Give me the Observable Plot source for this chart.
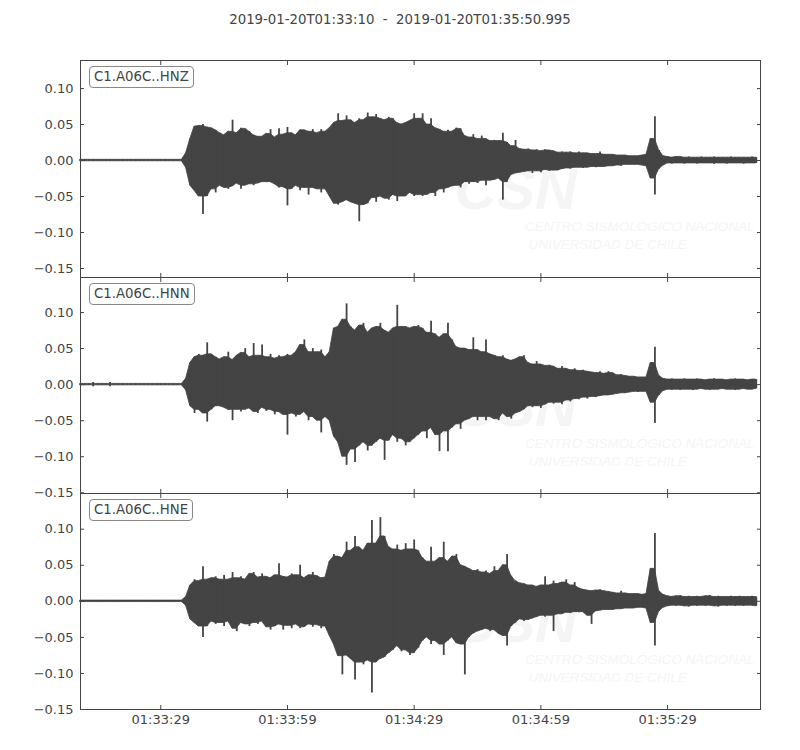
<!DOCTYPE html>
<html><head><meta charset="utf-8">
<script src="https://cdn.jsdelivr.net/npm/d3@7"></script>
<script src="https://cdn.jsdelivr.net/npm/@observablehq/plot@0.6"></script>
<style>
body{margin:0;background:#fff;font-family:"DejaVu Sans",sans-serif;}
#wrap{position:relative;width:800px;height:750px;overflow:hidden;}
#title{position:absolute;top:12px;left:0;width:800px;text-align:center;font-size:13.3px;line-height:16px;color:#444;white-space:pre;}
.panel{position:absolute;left:0;}
.lab{position:absolute;left:89px;padding:1px 4px;border:1px solid #888;border-radius:4px;background:#fff;font-size:13.3px;line-height:18px;color:#444;white-space:pre;}
</style></head><body><div id="wrap"><div id="title"></div></div>
<script>
// ---- data (amplitudes in units of 1e-3, one envelope value per second from the start time) ----
const startISO = "2019-01-20T01:33:10";
const endISO = "2019-01-20T01:35:50.995";
const channels = ["C1.A06C..HNZ", "C1.A06C..HNN", "C1.A06C..HNE"];
const xTickLabels = ["01:33:29", "01:33:59", "01:34:29", "01:34:59", "01:35:29"];
const yTickValues = [-0.15, -0.10, -0.05, 0.00, 0.05, 0.10];
const yLimits = [[-0.1625, 0.139], [-0.151, 0.1486], [-0.150, 0.1495]];
const watermarkLines = ["CSN", "CENTRO SISMOLÓGICO NACIONAL", "UNIVERSIDAD DE CHILE"];
const AMP_UNIT = 0.001;
const STEP_SECONDS = 1;

const hnzUpper = [1,1,1,1,1,1,1,1,1,1,1,1,1,1,1,1,1,1,1,1,1,1,1,1,1,
 10,30,47,48,50,46,45,42,38,35,40,56,38,45,44,40,35,33,33,37,43,32,44,36,46,38,35,42,42,40,43,38,43,40,45,52,65,55,62,56,52,58,56,66,60,64,58,56,60,58,52,50,52,55,65,58,
 65,50,58,45,43,40,42,40,45,44,34,32,36,30,34,30,27,28,27,38,25,20,28,16,15,16,14,15,13,15,14,13,11,12,11,12,10,12,10,10,9,9,12,8,8,8,7,7,7,6,6,6,7,8,30,61,14,6,
 5,4,5,5,4,5,4,4,5,4,4,5,4,4,4,5,4,4,4,4,5,4];
const hnzLower = [-1,-1,-1,-1,-1,-1,-1,-1,-1,-1,-1,-1,-1,-1,-1,-1,-1,-1,-1,-1,-1,-1,-1,-1,-1,
 -10,-35,-42,-50,-75,-50,-40,-45,-35,-38,-40,-36,-32,-40,-35,-33,-35,-32,-30,-30,-30,-33,-38,-37,-63,-40,-35,-42,-38,-48,-38,-40,-45,-40,-50,-60,-62,-58,-55,-58,-60,-85,-62,-60,-52,-58,-50,-53,-55,-48,-57,-50,-50,-45,-50,-48,
 -50,-48,-45,-50,-40,-45,-38,-36,-35,-38,-30,-33,-30,-32,-28,-35,-28,-27,-25,-55,-30,-20,-18,-17,-16,-15,-18,-15,-17,-13,-15,-14,-14,-12,-11,-12,-10,-10,-11,-10,-9,-10,-9,-9,-8,-8,-7,-8,-6,-6,-6,-6,-7,-8,-25,-48,-12,-7,
 -4,-5,-4,-4,-5,-4,-4,-5,-4,-4,-4,-5,-4,-4,-5,-4,-4,-4,-5,-4,-4,-4];

const hnnUpper = [1,1,1,3,1,1,1,3,1,1,1,1,1,1,1,1,1,1,1,1,1,1,1,1,1,
 8,30,38,42,40,58,42,38,35,38,45,34,40,44,50,38,57,40,55,38,42,36,40,38,42,40,45,55,62,45,50,45,48,38,45,78,80,90,112,80,75,82,85,72,78,80,85,75,72,78,110,80,80,78,80,82,
 78,72,88,70,65,70,85,62,52,50,50,48,65,48,45,62,42,40,38,40,35,33,35,38,40,30,28,32,28,26,27,25,22,25,22,20,22,19,20,18,17,16,18,15,18,16,13,14,12,11,11,10,10,10,30,52,12,8,
 7,8,7,7,8,7,7,8,7,6,7,8,7,7,6,7,8,7,7,6,7,7];
const hnnLower = [-1,-1,-1,-3,-1,-1,-1,-3,-1,-1,-1,-1,-1,-1,-1,-1,-1,-1,-1,-1,-1,-1,-1,-1,-1,
 -8,-30,-40,-35,-40,-52,-35,-30,-30,-32,-35,-50,-35,-38,-35,-33,-38,-40,-32,-37,-35,-42,-38,-42,-70,-40,-45,-42,-38,-50,-45,-50,-67,-45,-50,-72,-80,-100,-112,-90,-108,-85,-80,-92,-85,-80,-75,-105,-78,-70,-80,-75,-85,-80,-75,-70,
 -65,-75,-60,-70,-93,-65,-93,-60,-55,-62,-50,-48,-45,-50,-45,-50,-45,-48,-50,-40,-45,-48,-40,-38,-35,-30,-32,-30,-33,-28,-25,-27,-25,-28,-22,-24,-20,-21,-18,-20,-17,-18,-16,-15,-15,-14,-13,-12,-12,-11,-10,-11,-10,-10,-25,-54,-15,-9,
 -7,-8,-7,-8,-7,-7,-8,-7,-6,-7,-8,-7,-7,-6,-7,-7,-8,-7,-6,-7,-7,-6];

const hneUpper = [1,1,1,1,1,1,1,1,1,1,1,1,1,1,1,1,1,1,1,1,1,1,1,1,1,
 6,22,30,28,48,30,32,34,30,36,30,40,32,34,30,38,40,33,38,34,32,36,52,34,33,38,36,50,32,36,40,35,32,33,55,65,62,60,82,70,90,75,70,80,112,80,116,90,75,72,78,70,80,72,85,70,
 60,55,75,55,60,82,55,62,65,50,48,45,42,44,40,42,38,48,42,50,65,35,28,25,24,22,22,20,22,34,22,28,24,26,30,22,26,18,16,15,14,15,16,14,13,12,11,14,11,10,10,10,9,10,45,94,14,9,
 7,6,7,8,6,7,6,7,6,7,8,6,7,6,6,7,6,7,6,6,7,6];
const hneLower = [-1,-1,-1,-1,-1,-1,-1,-1,-1,-1,-1,-1,-1,-1,-1,-1,-1,-1,-1,-1,-1,-1,-1,-1,-1,
 -6,-25,-30,-35,-50,-35,-28,-32,-30,-35,-28,-38,-42,-30,-32,-35,-30,-32,-28,-36,-40,-35,-32,-40,-34,-38,-32,-38,-36,-32,-36,-33,-38,-35,-48,-60,-76,-102,-75,-80,-109,-85,-88,-82,-127,-85,-80,-78,-72,-68,-62,-70,-68,-75,-72,-65,
 -55,-50,-60,-55,-60,-75,-55,-50,-58,-60,-102,-50,-45,-42,-40,-38,-42,-40,-45,-48,-62,-35,-30,-25,-28,-26,-24,-22,-20,-22,-20,-42,-18,-18,-16,-17,-15,-16,-15,-20,-32,-14,-13,-12,-12,-12,-11,-11,-10,-10,-10,-9,-9,-10,-30,-62,-14,-9,
 -7,-6,-7,-6,-7,-8,-6,-7,-6,-7,-6,-7,-8,-6,-7,-6,-7,-6,-7,-6,-6,-7];

// ---- build ----
const t0 = new Date(startISO + "Z");
const t1 = new Date(endISO + "Z");
const xTicks = xTickLabels.map(s => new Date(startISO.slice(0, 11) + s + "Z"));
const fmtTime = d3.utcFormat("%H:%M:%S");
const fmtY = d3.format(".2f");

const series = [[hnzUpper, hnzLower], [hnnUpper, hnnLower], [hneUpper, hneLower]];
const layout = [{top: 59, h: 217}, {top: 276, h: 216}, {top: 492, h: 216}];
const ink = "#444";

document.getElementById("title").textContent = `${startISO}  -  ${endISO}`;
const wrap = document.getElementById("wrap");

series.forEach(([up, lo], k) => {
  const n = up.length;
  const at = (a, i) => a[Math.max(0, Math.min(n - 1, i))];
  const rows = up.map((u, i) => ({
    time: new Date(t0.getTime() + i * STEP_SECONDS * 1000),
    hi: u * AMP_UNIT,
    lo: lo[i] * AMP_UNIT,
    // solid body: each envelope value, with isolated peaks cut to the higher neighbour (peaks drawn as thin rules)
    bodyHi: Math.min(u, Math.max(at(up, i - 1), at(up, i + 1))) * AMP_UNIT,
    bodyLo: Math.max(lo[i], Math.min(at(lo, i - 1), at(lo, i + 1))) * AMP_UNIT
  }));
  const last = k === series.length - 1;
  const mb = last ? 40 : 1;
  const wm = {fill: "#f5f5f5", fontStyle: "italic", fontFamily: "Liberation Sans, sans-serif", lineAnchor: "bottom"};
  const marks = [
    Plot.text([watermarkLines[0]], {text: d => d, frameAnchor: "top-left", dx: 374, dy: 148, textAnchor: "start", fontSize: 58, fontWeight: "bold", ...wm}),
    Plot.text([watermarkLines[1]], {text: d => d, frameAnchor: "top-right", dx: -6, dy: 170, textAnchor: "end", fontSize: 13.5, ...wm}),
    Plot.text([watermarkLines[2]], {text: d => d, frameAnchor: "top-left", dx: 448, dy: 188, textAnchor: "start", fontSize: 13.5, ...wm}),
    Plot.areaY(rows, {x: "time", y1: "bodyLo", y2: "bodyHi", curve: "linear", fill: ink, stroke: ink, strokeWidth: 0.8}),
    Plot.ruleX(rows, {x: "time", y1: "lo", y2: "hi", stroke: ink, strokeWidth: 1.8}),
    Plot.frame({stroke: ink, strokeWidth: 1}),
    Plot.axisY({ticks: yTickValues, anchor: "left", tickSize: 0, tickPadding: 7, tickFormat: fmtY, label: null, fontSize: 13, fill: ink}),
    Plot.axisY({ticks: yTickValues, anchor: "left", tickSize: 4, dx: 4, tickFormat: () => "", label: null, stroke: ink}),
    Plot.axisY({ticks: yTickValues, anchor: "right", tickSize: 4, dx: -4, tickFormat: () => "", label: null, stroke: ink}),
    Plot.axisX({ticks: xTicks, anchor: "bottom", tickSize: 4, dy: -4, tickFormat: () => "", label: null, stroke: ink}),
    Plot.axisX({ticks: xTicks, anchor: "top", tickSize: 4, dy: 4, tickFormat: () => "", label: null, stroke: ink})
  ];
  if (last) {
    marks.push(Plot.axisX({ticks: xTicks, anchor: "bottom", tickSize: 0, tickPadding: 5, tickFormat: fmtTime, label: null, fontSize: 13, fill: ink}));
  }
  const svg = Plot.plot({
    width: 800,
    height: 1 + layout[k].h + mb,
    marginLeft: 80, marginRight: 40, marginTop: 1, marginBottom: mb,
    style: {fontFamily: "DejaVu Sans", fontSize: "13px", color: ink, background: "none", overflow: "visible"},
    x: {type: "utc", domain: [t0, t1]},
    y: {domain: yLimits[k]},
    marks
  });
  svg.classList.add("panel");
  svg.style.top = layout[k].top + "px";
  wrap.appendChild(svg);

  const lab = document.createElement("div");
  lab.className = "lab";
  lab.style.top = (layout[k].top + 7) + "px";
  lab.textContent = channels[k];
  wrap.appendChild(lab);
});
</script>
</body></html>
